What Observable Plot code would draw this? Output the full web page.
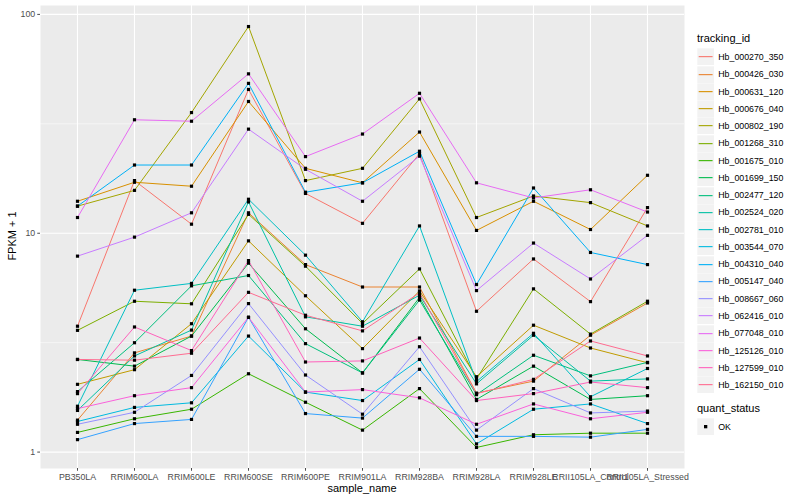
<!DOCTYPE html>
<html>
<head>
<meta charset="utf-8">
<script src="https://cdn.jsdelivr.net/npm/d3@7"></script>
<script src="https://cdn.jsdelivr.net/npm/@observablehq/plot@0.6"></script>
<style>
  body { margin: 0; background: white; }
  #wrap { position: relative; width: 800px; height: 500px; font-family: "Liberation Sans", Arial, sans-serif; overflow: hidden; }
  #chart { position: absolute; left: 0; top: 0; }
  .title { position: absolute; font-size: 11px; color: #000; white-space: nowrap; }
  #legend { position: absolute; left: 697px; top: 29px; font-size: 8.8px; color: #000; }
  .ltitle { font-size: 11px; height: 19.4px; line-height: 18px; }
  .item { display: flex; align-items: center; height: 17.28px; }
  .item svg { display: block; flex: none; }
  .lab { margin-left: 4px; white-space: nowrap; }
</style>
</head>
<body>
<div id="wrap">
  <div id="chart"></div>
  <div class="title" id="ytitle" style="left:12px; top:236px; transform: translate(-50%,-50%) rotate(-90deg);">FPKM + 1</div>
  <div class="title" id="xtitle" style="left:362px; top:488px; transform: translate(-50%,-50%);">sample_name</div>
  <div id="legend"></div>
</div>
<script>
const samples = ["PB350LA","RRIM600LA","RRIM600LE","RRIM600SE","RRIM600PE","RRIM901LA","RRIM928BA","RRIM928LA","RRIM928LE","RRII105LA_Control","RRII105LA_Stressed"];

const trackingIds = ["Hb_000270_350","Hb_000426_030","Hb_000631_120","Hb_000676_040","Hb_000802_190","Hb_001268_310","Hb_001675_010","Hb_001699_150","Hb_002477_120","Hb_002524_020","Hb_002781_010","Hb_003544_070","Hb_004310_040","Hb_005147_040","Hb_008667_060","Hb_062416_010","Hb_077048_010","Hb_125126_010","Hb_127599_010","Hb_162150_010"];

const colors = ["#F8766D","#EA8331","#D89000","#C09B00","#A3A500","#7CAE00","#39B600","#00BB4E","#00BF7D","#00C1A3","#00BFC4","#00BAE0","#00B0F6","#35A2FF","#9590FF","#C77CFF","#E76BF3","#FA62DB","#FF62BC","#FF6C91"];

// FPKM + 1 values, one array per tracking_id, in sample order
const hb_000270_350 = [3.76, 17.4, 11.0, 45.4, 15.2, 11.1, 23.1, 4.40, 7.63, 4.87, 13.1];
const hb_000426_030 = [1.40, 2.84, 3.39, 12.4, 7.19, 5.68, 5.68, 1.86, 2.11, 3.42, 4.80];
const hb_000631_120 = [14.0, 17.1, 16.4, 40.0, 19.8, 17.0, 29.0, 10.3, 14.0, 10.4, 18.4];
const hb_000676_040 = [2.04, 2.38, 3.86, 9.23, 5.18, 2.97, 5.45, 2.21, 3.80, 2.99, 2.56];
const hb_000802_190 = [13.3, 15.7, 35.6, 88.0, 17.4, 19.8, 41.1, 11.8, 14.8, 13.8, 10.8];
const hb_001268_310 = [3.60, 4.89, 4.76, 12.2, 7.07, 3.87, 6.87, 2.16, 5.57, 3.46, 4.89];
const hb_001675_010 = [1.23, 1.42, 1.57, 2.28, 1.69, 1.26, 1.95, 1.05, 1.20, 1.22, 1.22];
const hb_001699_150 = [2.65, 2.47, 3.39, 7.30, 3.66, 2.30, 5.09, 1.74, 2.47, 1.74, 1.81];
const hb_002477_120 = [1.89, 3.16, 5.75, 6.41, 3.13, 2.30, 4.95, 1.83, 2.77, 2.23, 2.57];
const hb_002524_020 = [1.55, 2.75, 3.61, 13.9, 4.15, 3.76, 5.21, 2.05, 3.42, 2.11, 2.16];
const hb_002781_010 = [1.62, 5.49, 5.90, 14.3, 7.94, 3.94, 10.8, 2.10, 3.49, 1.79, 2.41];
const hb_003544_070 = [1.38, 1.60, 1.68, 3.39, 1.88, 1.72, 2.65, 1.09, 1.57, 1.66, 1.35];
const hb_004310_040 = [13.3, 20.5, 20.5, 48.4, 15.4, 17.0, 23.7, 5.83, 16.1, 8.17, 7.19];
const hb_005147_040 = [1.14, 1.35, 1.41, 4.13, 1.50, 1.43, 2.39, 1.18, 1.18, 1.17, 1.27];
const hb_008667_060 = [1.34, 1.52, 2.24, 4.77, 2.25, 1.49, 3.03, 1.26, 1.95, 1.51, 1.54];
const hb_062416_010 = [7.86, 9.60, 12.4, 29.9, 19.6, 14.0, 22.5, 5.47, 9.02, 6.18, 9.78];
const hb_077048_010 = [11.8, 33.0, 32.5, 53.5, 22.4, 28.4, 43.6, 17.0, 14.5, 15.8, 12.5];
const hb_125126_010 = [1.58, 1.81, 1.97, 4.13, 1.88, 1.93, 1.77, 1.34, 1.66, 1.42, 1.52];
const hb_127599_010 = [1.85, 3.73, 2.91, 7.50, 2.58, 2.61, 3.32, 1.72, 1.85, 2.09, 1.97];
const hb_162150_010 = [2.65, 2.63, 2.83, 5.37, 4.22, 3.58, 5.34, 1.85, 2.15, 3.22, 2.75];

const seriesValues = [hb_000270_350, hb_000426_030, hb_000631_120, hb_000676_040, hb_000802_190, hb_001268_310, hb_001675_010, hb_001699_150, hb_002477_120, hb_002524_020, hb_002781_010, hb_003544_070, hb_004310_040, hb_005147_040, hb_008667_060, hb_062416_010, hb_077048_010, hb_125126_010, hb_127599_010, hb_162150_010];

const yMajor = [1, 10, 100];
const yMinor = [Math.sqrt(10), Math.sqrt(1000)];

const data = trackingIds.flatMap((id, i) =>
  seriesValues[i].map((v, j) => ({id, sample: samples[j], value: v, quant_status: "OK"})));

// ggplot-like 5% expansion in log space
const [vmin, vmax] = d3.extent(data, d => d.value);
const lo = Math.log10(vmin), hi = Math.log10(vmax), pad = 0.05 * (hi - lo);
const yDomain = [Math.pow(10, lo - pad), Math.pow(10, hi + pad)];

const chart = Plot.plot({
  width: 690,
  height: 500,
  marginLeft: 40,
  marginRight: 6,
  marginTop: 5,
  marginBottom: 32,
  style: {fontFamily: "'Liberation Sans', Arial, sans-serif", background: "white", overflow: "visible"},
  x: {type: "point", domain: samples, padding: 0.6, label: null},
  y: {type: "log", domain: yDomain, label: null},
  color: {domain: trackingIds, range: colors},
  marks: [
    Plot.frame({fill: "#EBEBEB", stroke: null}),
    Plot.ruleY(yMinor, {stroke: "white", strokeWidth: 0.55}),
    Plot.ruleY(yMajor, {stroke: "white", strokeWidth: 1.1}),
    Plot.ruleX(samples, {stroke: "white", strokeWidth: 1.1}),
    Plot.line(data, {x: "sample", y: "value", z: "id", stroke: "id", strokeWidth: 1}),
    Plot.dot(data, {x: "sample", y: "value", fill: "black", stroke: null, r: 1.8, symbol: "square"}),
    Plot.axisY({ticks: yMajor, tickFormat: d => String(d), tickSize: 2.75, tickPadding: 2.5, fontSize: 8.8, color: "#4D4D4D", label: null}),
    Plot.axisX({tickSize: 2.75, tickPadding: 2.5, fontSize: 8.8, color: "#4D4D4D", label: null})
  ]
});
document.getElementById("chart").appendChild(chart);

// Legend (HTML with small SVG keys)
const NS = "http://www.w3.org/2000/svg";
function keySvg(draw) {
  const s = document.createElementNS(NS, "svg");
  s.setAttribute("width", "17.28"); s.setAttribute("height", "17.28");
  const bg = document.createElementNS(NS, "rect");
  bg.setAttribute("x", "0.3"); bg.setAttribute("y", "0.3");
  bg.setAttribute("width", "16.68"); bg.setAttribute("height", "16.68");
  bg.setAttribute("fill", "#F2F2F2");
  s.appendChild(bg);
  draw(s);
  return s;
}
const legend = document.getElementById("legend");
const t1 = document.createElement("div");
t1.className = "ltitle"; t1.textContent = "tracking_id";
legend.appendChild(t1);
trackingIds.forEach((id, i) => {
  const it = document.createElement("div"); it.className = "item";
  const k = keySvg(s => {
    const l = document.createElementNS(NS, "line");
    l.setAttribute("x1", "1.7"); l.setAttribute("x2", "15.58");
    l.setAttribute("y1", "8.64"); l.setAttribute("y2", "8.64");
    l.setAttribute("stroke", colors[i]); l.setAttribute("stroke-width", "1.1");
    s.appendChild(l);
  });
  const lb = document.createElement("div"); lb.className = "lab"; lb.textContent = id;
  it.appendChild(k); it.appendChild(lb);
  legend.appendChild(it);
});
const t2 = document.createElement("div");
t2.className = "ltitle"; t2.style.marginTop = "5px"; t2.textContent = "quant_status";
legend.appendChild(t2);
const it2 = document.createElement("div"); it2.className = "item";
const k2 = keySvg(s => {
  const r = document.createElementNS(NS, "rect");
  r.setAttribute("x", "7"); r.setAttribute("y", "7");
  r.setAttribute("width", "3.3"); r.setAttribute("height", "3.3");
  r.setAttribute("fill", "#000");
  s.appendChild(r);
});
const lb2 = document.createElement("div"); lb2.className = "lab"; lb2.textContent = "OK";
it2.appendChild(k2); it2.appendChild(lb2);
legend.appendChild(it2);
</script>
</body>
</html>
